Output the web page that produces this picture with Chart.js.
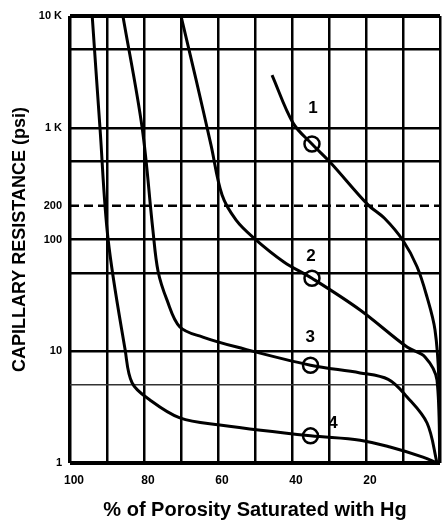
<!DOCTYPE html>
<html>
<head>
<meta charset="utf-8">
<script src="https://cdn.jsdelivr.net/npm/chart.js@4.4.0/dist/chart.umd.min.js"></script>
<style>
  html, body { margin: 0; background: #fff; overflow: hidden; }
  #wrap { width: 442px; height: 523px; }
  canvas { display: block; }
</style>
</head>
<body>
<div id="wrap"><canvas id="chart"></canvas></div>
<script>
// % of porosity saturated with Hg (x) and capillary resistance in psi (y)
const pct1 = [45.4, 39.7, 34.6, 29.5, 19.5, 15, 10, 6.2, 3.5, 1.35, 0.3, 0.1];
const psi1 = [2960, 1100, 715, 484, 205, 155, 98, 57, 30.5, 15.5, 5.5, 1];

const pct2 = [70, 65.9, 61.9, 58.9, 55.1, 50.3, 42.2, 34.6, 21.6, 8.9, 4.05, 0.8, 0];
const psi2 = [10000, 2670, 702, 250, 149, 103, 63, 45, 23.4, 10.9, 8.9, 5.5, 1];

const pct3 = [85.7, 80.5, 77.6, 76.2, 73.8, 70.3, 64.1, 54.9, 35, 21.6, 14, 8.9, 3.5, 0.8];
const psi3 = [10000, 1000, 122, 52, 28.8, 16.5, 13.4, 10.9, 7.5, 6.4, 5.6, 3.9, 2.28, 1];

const pct4 = [94, 91.9, 89.7, 85.1, 83.2, 78.4, 70.3, 59.5, 35, 21.6, 13.5, 4.6, 0.8];
const psi4 = [10000, 1000, 100, 10.3, 5.2, 3.66, 2.53, 2.19, 1.75, 1.6, 1.39, 1.13, 1];

// open circles on each curve
const markerPct = [34.6, 34.6, 35, 35];
const markerPsi = [715, 45, 7.5, 1.75];

// curve numbers
const curveNames = ['1', '2', '3', '4'];
const namePct = [34.3, 34.9, 35.1, 28.9];
const namePsi = [1500, 70, 13.4, 2.28];

const xLabelValues = [100, 80, 60, 40, 20];
const yGridValues = [1, 5, 10, 50, 100, 200, 500, 1000, 5000, 10000];
const yTickLabels = ['1', '', '10', '', '100', '200', '', '1 K', '', '10 K'];

const toPoints = (xs, ys) => xs.map((x, i) => ({ x, y: ys[i] }));
const FONT = '"Liberation Sans", Arial, sans-serif';

const curveStyle = {
  borderColor: '#000',
  borderWidth: 3,
  pointRadius: 0,
  showLine: true,
  fill: false,
  tension: 0.35
};

const overlay = {
  id: 'overlay',
  beforeDatasetsDraw(chart) {
    const { ctx, chartArea, scales } = chart;
    const y = scales.y.getPixelForValue(200);
    ctx.save();
    ctx.strokeStyle = '#000';
    ctx.lineWidth = 2.5;
    ctx.setLineDash([9, 5]);
    ctx.beginPath();
    ctx.moveTo(chartArea.left, y);
    ctx.lineTo(chartArea.right, y);
    ctx.stroke();
    ctx.restore();
  },
  afterDatasetsDraw(chart) {
    const { ctx, scales } = chart;
    ctx.save();
    ctx.fillStyle = '#000';
    ctx.font = 'bold 17px ' + FONT;
    ctx.textAlign = 'center';
    ctx.textBaseline = 'middle';
    curveNames.forEach((name, i) => {
      ctx.fillText(name, scales.x.getPixelForValue(namePct[i]), scales.y.getPixelForValue(namePsi[i]));
    });
    ctx.restore();
  }
};

new Chart(document.getElementById('chart'), {
  type: 'scatter',
  data: {
    datasets: [
      { ...curveStyle, data: toPoints(pct1, psi1) },
      { ...curveStyle, data: toPoints(pct2, psi2) },
      { ...curveStyle, data: toPoints(pct3, psi3) },
      { ...curveStyle, data: toPoints(pct4, psi4) },
      {
        data: toPoints(markerPct, markerPsi),
        showLine: false,
        pointRadius: 7.5,
        pointBorderWidth: 2.5,
        pointBorderColor: '#000',
        pointBackgroundColor: '#fff'
      }
    ]
  },
  plugins: [overlay],
  options: {
    responsive: true,
    maintainAspectRatio: false,
    animation: false,
    layout: { autoPadding: false, padding: { top: 16, right: 2, left: 0, bottom: 0 } },
    plugins: { legend: { display: false }, tooltip: { enabled: false } },
    scales: {
      x: {
        type: 'linear',
        reverse: true,
        min: 0,
        max: 100,
        afterFit: s => { s.height = 60; s.paddingLeft = 0; s.paddingRight = 0; },
        ticks: {
          stepSize: 10,
          autoSkip: false,
          maxRotation: 0,
          padding: 0,
          labelOffset: 4,
          color: '#000',
          font: { family: FONT, size: 12, weight: 'bold' },
          callback: v => (xLabelValues.includes(v) ? String(v) : '')
        },
        grid: {
          color: '#000',
          lineWidth: ctx => (ctx.tick.value === 100 ? 3.5 : 2.5),
          drawTicks: true,
          tickLength: 10,
          tickColor: 'rgba(0,0,0,0)'
        },
        border: { display: false },
        title: {
          display: true,
          text: '% of Porosity Saturated with Hg',
          color: '#000',
          padding: { top: 0, bottom: 1 },
          font: { family: FONT, size: 20, weight: 'bold' }
        }
      },
      y: {
        type: 'logarithmic',
        min: 1,
        max: 10000,
        afterFit: s => { s.width = 70; },
        afterBuildTicks: s => { s.ticks = yGridValues.map(value => ({ value })); },
        ticks: {
          autoSkip: false,
          padding: 8,
          color: '#000',
          font: { family: FONT, size: 11, weight: 'bold' },
          callback: (v, i) => yTickLabels[i]
        },
        grid: {
          drawTicks: false,
          color: ctx => (ctx.tick.value === 200 ? 'rgba(0,0,0,0)' : ctx.tick.value === 5 ? '#333' : '#000'),
          lineWidth: ctx => {
            const v = ctx.tick.value;
            if (v === 1 || v === 10000) return 4;
            if (v === 5) return 1.5;
            return 2.5;
          }
        },
        border: { display: false },
        title: {
          display: true,
          text: 'CAPILLARY RESISTANCE (psi)',
          color: '#000',
          padding: { top: 9, bottom: 0 },
          font: { family: FONT, size: 18, weight: 'bold' }
        }
      }
    }
  }
});
</script>
</body>
</html>
